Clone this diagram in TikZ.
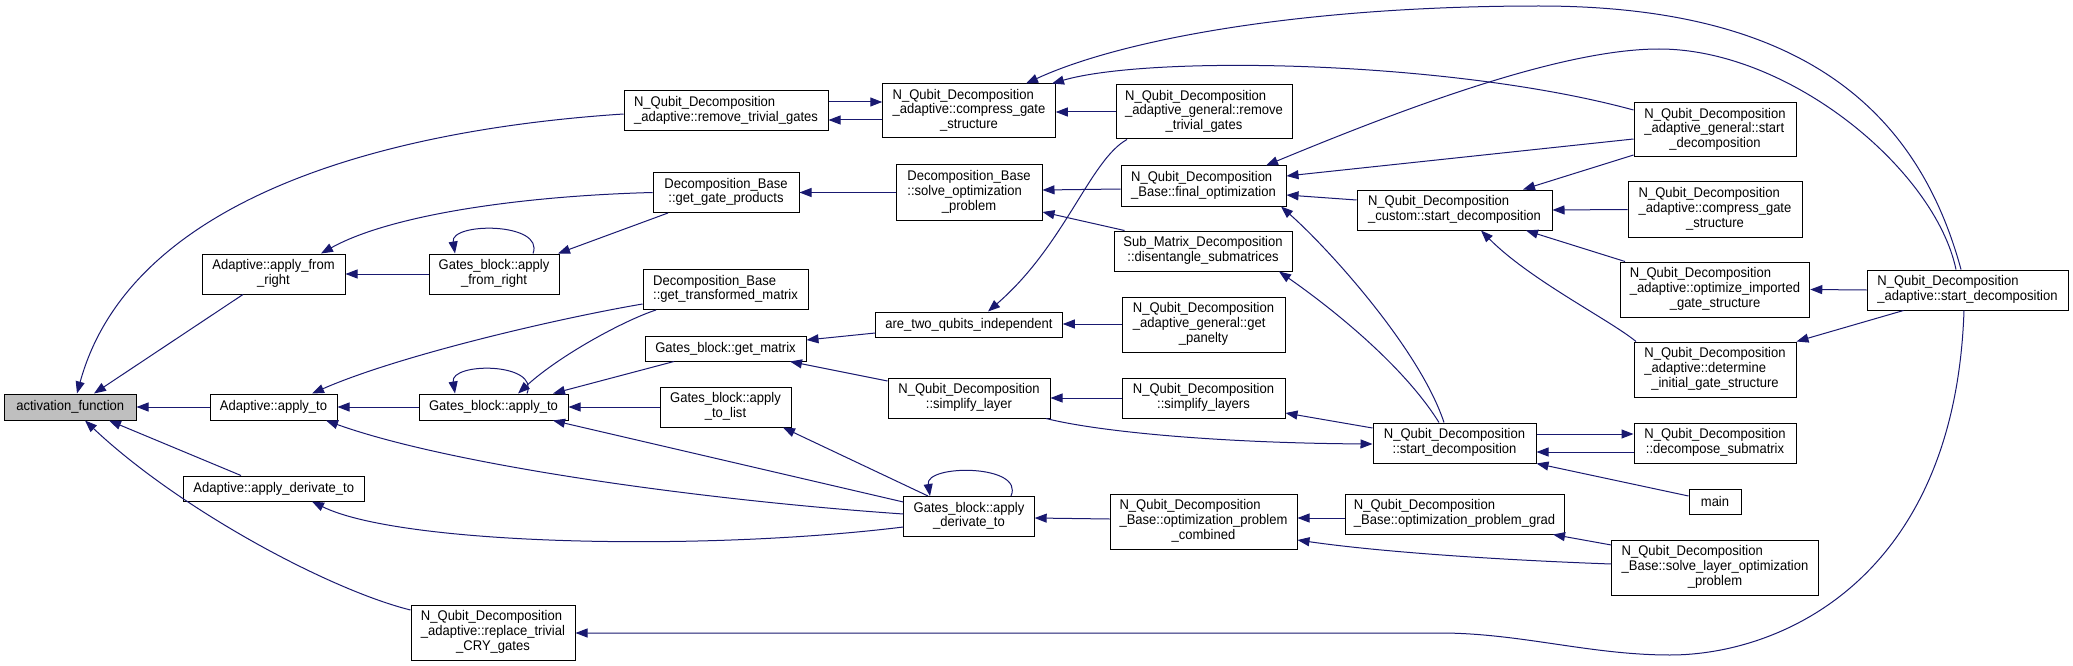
\documentclass[tikz,border=0pt]{standalone}
\usepackage{fontspec}
\setmainfont{Liberation Sans}[FakeStretch=0.93]
\usetikzlibrary{arrows.meta,calc}
\definecolor{navy}{HTML}{191970}
\definecolor{actgray}{HTML}{BFBFBF}
\newcommand{\dgfont}{\fontsize{14}{14.7}\selectfont}
\newcommand{\twol}[2]{\begin{tabular}{@{}l@{}}#1\\\multicolumn{1}{@{}c@{}}{#2}\end{tabular}}
\newcommand{\threel}[3]{\begin{tabular}{@{}l@{}}#1\\#2\\\multicolumn{1}{@{}c@{}}{#3}\end{tabular}}
\tikzset{
  box/.style={draw=black, line width=1pt, inner sep=0pt, fill=white, font=\dgfont},
  sz/.style 2 args={minimum width=#1pt, minimum height=#2pt},
  link/.style={draw=navy, line width=1pt, -{Triangle[length=12pt,width=9pt]}, fill=none}
}
\begin{document}
\begin{tikzpicture}[x=1pt,y=-1pt]
\useasboundingbox (0,0) rectangle (2073,666);
\fill[white] (0,0) rectangle (2073,666);
% nodes
\node[box, sz={131.5}{26}, fill=actgray] (act) at (70.25,407) {activation\_function};
\node[box, sz={127}{26}] (aaft) at (273.5,407) {Adaptive::apply\_to};
\node[box, sz={149}{26}] (gbat) at (493.5,407) {Gates\_block::apply\_to};
\node[box, sz={143}{40}] (afr) at (273.5,274) {\twol{Adaptive::apply\_from}{\_right}};
\node[box, sz={130}{40}] (gbfr) at (494,274) {\twol{Gates\_block::apply}{\_from\_right}};
\node[box, sz={180.5}{25}] (adt) at (273.75,488.5) {Adaptive::apply\_derivate\_to};
\node[box, sz={164}{55}] (rcry) at (493,632.5) {\threel{N\_Qubit\_Decomposition}{\_adaptive::replace\_trivial}{\_CRY\_gates}};
\node[box, sz={204}{40}] (rtg) at (726,111) {\twol{N\_Qubit\_Decomposition}{\_adaptive::remove\_trivial\_gates}};
\node[box, sz={146}{40}] (ggp) at (726,192.5) {\twol{Decomposition\_Base}{::get\_gate\_products}};
\node[box, sz={165}{40}] (gtm) at (725.5,289.5) {\twol{Decomposition\_Base}{::get\_transformed\_matrix}};
\node[box, sz={161}{25}] (gm) at (725.5,348.5) {Gates\_block::get\_matrix};
\node[box, sz={131}{40}] (atl) at (725.5,407) {\twol{Gates\_block::apply}{\_to\_list}};
\node[box, sz={172.5}{54}] (cgs) at (969,111) {\threel{N\_Qubit\_Decomposition}{\_adaptive::compress\_gate}{\_structure}};
\node[box, sz={146}{55}] (sop) at (969,192.5) {\threel{Decomposition\_Base}{::solve\_optimization}{\_problem}};
\node[box, sz={186.5}{25}] (atqi) at (969,324.5) {are\_two\_qubits\_independent};
\node[box, sz={162}{40}] (sl) at (969,398) {\twol{N\_Qubit\_Decomposition}{::simplify\_layer}};
\node[box, sz={130.4}{40}] (gbdt) at (969,516.5) {\twol{Gates\_block::apply}{\_derivate\_to}};
\node[box, sz={176}{54}] (agrt) at (1204,112) {\threel{N\_Qubit\_Decomposition}{\_adaptive\_general::remove}{\_trivial\_gates}};
\node[box, sz={165}{40}] (fo) at (1203.5,186) {\twol{N\_Qubit\_Decomposition}{\_Base::final\_optimization}};
\node[box, sz={178}{40}] (dsm) at (1203,251) {\twol{Sub\_Matrix\_Decomposition}{::disentangle\_submatrices}};
\node[box, sz={163}{55}] (gp) at (1203.5,324.5) {\threel{N\_Qubit\_Decomposition}{\_adaptive\_general::get}{\_panelty}};
\node[box, sz={163}{40}] (sls) at (1203.5,398) {\twol{N\_Qubit\_Decomposition}{::simplify\_layers}};
\node[box, sz={187}{55}] (opc) at (1203.5,521.5) {\threel{N\_Qubit\_Decomposition}{\_Base::optimization\_problem}{\_combined}};
\node[box, sz={195}{40}] (csd) at (1454.5,210) {\twol{N\_Qubit\_Decomposition}{\_custom::start\_decomposition}};
\node[box, sz={163}{40}] (nsd) at (1454.5,443) {\twol{N\_Qubit\_Decomposition}{::start\_decomposition}};
\node[box, sz={219}{40}] (opg) at (1454.5,514) {\twol{N\_Qubit\_Decomposition}{\_Base::optimization\_problem\_grad}};
\node[box, sz={162}{54}] (agsd) at (1715,130) {\threel{N\_Qubit\_Decomposition}{\_adaptive\_general::start}{\_decomposition}};
\node[box, sz={174}{55}] (acgs) at (1715,209.5) {\threel{N\_Qubit\_Decomposition}{\_adaptive::compress\_gate}{\_structure}};
\node[box, sz={189.5}{55}] (oigs) at (1715,289.5) {\threel{N\_Qubit\_Decomposition}{\_adaptive::optimize\_imported}{\_gate\_structure}};
\node[box, sz={162}{55}] (digs) at (1715,369.5) {\threel{N\_Qubit\_Decomposition}{\_adaptive::determine}{\_initial\_gate\_structure}};
\node[box, sz={162}{40}] (dsub) at (1715,443) {\twol{N\_Qubit\_Decomposition}{::decompose\_submatrix}};
\node[box, sz={52}{25}] (main) at (1715,501.5) {main};
\node[box, sz={206.5}{55}] (slop) at (1715,567.5) {\threel{N\_Qubit\_Decomposition}{\_Base::solve\_layer\_optimization}{\_problem}};
\node[box, sz={201}{40}] (asd) at (1967.5,290) {\twol{N\_Qubit\_Decomposition}{\_adaptive::start\_decomposition}};
% edges
\draw[link] (aaft.west) -- (act.east);
\draw[link] (243,0 |- afr.south) -- (94,0 |- act.north);
\draw[link] (241,0 |- adt.north) -- (109,0 |- act.south);
\draw[link] (rtg.west |- 0,114) .. controls (380,130) and (130,200) .. (77,0 |- act.north);
\draw[link] (rcry.west |- 0,610) .. controls (330,590) and (180,510) .. (85,0 |- act.south);
\draw[link] (ggp.west) .. controls (520,196) and (390,215) .. (321,0 |- afr.north);
\draw[link] (668,0 |- ggp.south) -- (558,0 |- gbfr.north);
\draw[link] (gbfr.west) -- (afr.east);
\draw[link] (533,0 |- gbfr.north) .. controls (545,222) and (450,222) .. (455,0 |- gbfr.north);
\draw[link] (gbat.west) -- (aaft.east);
\draw[link] (527,0 |- gbat.north) .. controls (540,362) and (450,362) .. (455,0 |- gbat.north);
\draw[link] (gtm.west |- 0,304) .. controls (560,318) and (400,355) .. (312,0 |- aaft.north);
\draw[link] (656,0 |- gtm.south) .. controls (625,320) and (560,355) .. (518,0 |- gbat.north);
\draw[link] (674,0 |- gm.south) -- (553,0 |- gbat.north);
\draw[link] (atl.west) -- (gbat.east);
\draw[link] (gbdt.west |- 0,502) -- (553,0 |- gbat.south);
\draw[link] (gbdt.west |- 0,514) .. controls (700,500) and (450,465) .. (326,0 |- aaft.south);
\draw[link] (gbdt.west |- 0,527) .. controls (700,552) and (400,545) .. (312,0 |- adt.south);
\draw[link] (928,0 |- gbdt.north) -- (783,0 |- atl.south);
\draw[link] (1011,0 |- gbdt.north) .. controls (1025,464) and (925,464) .. (930,0 |- gbdt.north);
\draw[link] (opc.west |- 0,519) -- (gbdt.east |- 0,518);
\draw[link] (rtg.east |- 0,102) -- (cgs.west |- 0,102);
\draw[link] (cgs.west |- 0,120) -- (rtg.east |- 0,120);
\draw[link] (agrt.west |- 0,112) -- (cgs.east |- 0,112);
\draw[link] (sop.west) -- (ggp.east);
\draw[link] (fo.west |- 0,189) -- (sop.east |- 0,190);
\draw[link] (1124.5,0 |- dsm.north) -- (sop.east |- 0,212);
\draw[link] (1127,0 |- agrt.south) .. controls (1090,160) and (1065,245) .. (988,0 |- atqi.north);
\draw[link] (gp.west |- 0,324) -- (atqi.east |- 0,324);
\draw[link] (atqi.west |- 0,333) -- (gm.east |- 0,340);
\draw[link] (sl.west |- 0,381) -- (790,0 |- gm.south);
\draw[link] (sls.west) -- (sl.east);
\draw[link] (1046,0 |- sl.south) .. controls (1100,432) and (1220,443) .. (nsd.west |- 0,444);
\draw[link] (nsd.west |- 0,428) -- (sls.east |- 0,413);
\draw[link] (1444,0 |- nsd.north) .. controls (1420,350) and (1330,250) .. (1281,0 |- fo.south);
\draw[link] (1439,0 |- nsd.north) .. controls (1400,360) and (1320,300) .. (1279,0 |- dsm.south);
\draw[link] (nsd.east |- 0,434) -- (dsub.west |- 0,434);
\draw[link] (dsub.west |- 0,452) -- (nsd.east |- 0,452);
\draw[link] (main.west |- 0,496) -- (nsd.south east);
\draw[link] (opg.west |- 0,518) -- (opc.east |- 0,518);
\draw[link] (slop.west |- 0,545) -- (1553,0 |- opg.south);
\draw[link] (slop.west |- 0,564) .. controls (1500,560) and (1380,552) .. (opc.east |- 0,540);
\draw[link] (csd.west |- 0,200) -- (fo.east |- 0,195);
\draw[link] (agsd.west |- 0,139) -- (fo.east |- 0,176);
\draw[link] (agsd.west |- 0,155) -- (1523,0 |- csd.north);
\draw[link] (acgs.west) -- (csd.east);
\draw[link] (1625,0 |- oigs.north) -- (1526,0 |- csd.south);
\draw[link] (1636,0 |- digs.north) .. controls (1610,320) and (1530,280) .. (1481,0 |- csd.south);
\draw[link] (asd.west) -- (oigs.east);
\draw[link] (1903.5,0 |- asd.south) -- (digs.north east);
\draw[link] (1961,0 |- asd.north) .. controls (1915,100) and (1790,6) .. (1539,6) .. controls (1300,6) and (1120,40) .. (1026,0 |- cgs.north);
\draw[link] (1956,0 |- asd.north) .. controls (1935,170) and (1790,49) .. (1659,49) .. controls (1560,49) and (1400,110) .. (1266,0 |- fo.north);
\draw[link] (agsd.west |- 0,110) .. controls (1450,60) and (1150,55) .. (1052,0 |- cgs.north);
\draw[link] (1964,0 |- asd.south) .. controls (1955,580) and (1780,655) .. (1670,655) .. controls (1590,655) and (1520,633) .. (1440,633) -- (rcry.east |- 0,633);
\end{tikzpicture}
\end{document}
